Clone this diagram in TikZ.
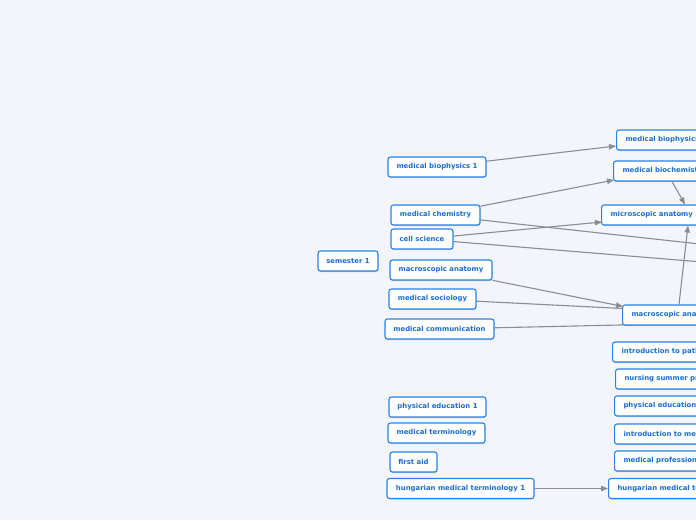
\documentclass[tikz,border=0pt]{standalone}
\usepackage{fontspec}
\setmainfont{DejaVu Sans}
\usetikzlibrary{arrows.meta,calc,shadows}
\definecolor{bgc}{HTML}{F3F5FD}
\definecolor{bordc}{HTML}{2A82E4}
\definecolor{txtc}{HTML}{1A6ED2}
\definecolor{linec}{HTML}{8A8C96}
\tikzset{
  topic/.style={draw=bordc, line width=1.1pt, fill=white, rounded corners=2.5pt,
    text=txtc, font=\fontsize{6.9}{8}\selectfont\bfseries, minimum height=20pt,
    inner sep=0pt, drop shadow={shadow xshift=0.4pt, shadow yshift=-1pt, fill=black, opacity=0.18}},
  rtopic/.style={topic, anchor=west, inner xsep=9pt, text width=150pt, align=left},
  conn/.style={draw=linec, line width=1.1pt},
  arr/.style={conn, -{Triangle[length=7pt,width=5.5pt]}}
}
\begin{document}
\begin{tikzpicture}[x=1pt,y=-1pt]
\fill[bgc] (0,0) rectangle (696,520);
\useasboundingbox (0,0) rectangle (696,520);
\clip (0,0) rectangle (696,520);

% off-screen targets
\coordinate (off1) at (800,255);
\coordinate (off2) at (800,270);
\coordinate (off3) at (800,321);

% left column
\node[topic, minimum width=60pt] (sem) at (348,261) {semester 1};
\node[topic, minimum width=98pt] (mb1) at (437,167) {medical biophysics 1};
\node[topic, minimum width=89pt] (mch) at (435.5,215) {medical chemistry};
\node[topic, minimum width=62pt] (cs) at (422,239) {cell science};
\node[topic, minimum width=102pt] (ma) at (441,270) {macroscopic anatomy};
\node[topic, minimum width=87pt] (ms) at (432.5,299) {medical sociology};
\node[topic, minimum width=109pt] (mc) at (439.5,329) {medical communication};
\node[topic, minimum width=97pt] (pe1) at (437.5,407) {physical education 1};
\node[topic, minimum width=97pt] (mt) at (436.5,433) {medical terminology};
\node[topic, minimum width=47pt] (fa) at (413.5,462) {first aid};
\node[topic, minimum width=147pt] (hmt1) at (460.5,488.5) {hungarian medical terminology 1};

% connectors going off-screen (behind right nodes)
\draw[conn] (mch) -- (off1);
\draw[conn] (cs) -- (off2);
\draw[conn] (mc) -- (off3);

% right column
\node[rtopic] (rb2) at (616,140) {medical biophysics 2};
\node[rtopic] (rbc) at (613,171) {medical biochemistry 1};
\node[rtopic] (rma) at (601,215) {microscopic anatomy 1};
\node[rtopic] (rmac) at (622,315) {macroscopic anatomy 2};
\node[rtopic] (rip) at (612,352) {introduction to pathology};
\node[rtopic] (rns) at (615,379) {nursing summer practice};
\node[rtopic] (rpe) at (614,406) {physical education 2};
\node[rtopic] (rim) at (614,434) {introduction to medical};
\node[rtopic] (rmp) at (614,461) {medical professionalism};
\node[rtopic] (rhmt) at (608,488.5) {hungarian medical terminology 2};

% arrows
\draw[arr] (mb1) -- ($(rb2.west)+(0,6)$);
\draw[arr] (mch) -- ($(rbc.west)+(1,9)$);
\draw[arr] (cs) -- ($(rma.west)+(1,7)$);
\draw[arr] ($(rbc.south west)+(59,0)$) -- ($(rma.north west)+(84,0)$);
\draw[arr] ($(rmac.north west)+(57,0)$) -- ($(rma.south west)+(87,0)$);
\draw[arr] (ma) -- ($(rmac.north west)+(1,2)$);
\draw[conn] (ms) -- ($(rmac.north west)+(0,4)$);
\draw[arr] (hmt1.east) -- (rhmt.west);
\end{tikzpicture}
\end{document}
